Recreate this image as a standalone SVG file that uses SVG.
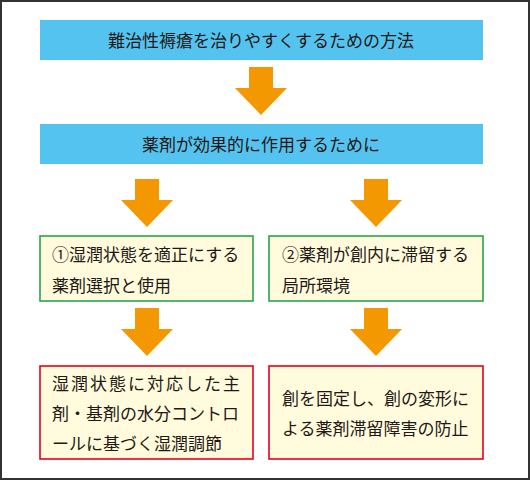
<svg xmlns="http://www.w3.org/2000/svg" width="530" height="480" viewBox="0 0 530 480">
<defs>
<style>
.t{font-family:"Noto Sans CJK JP","Noto Sans CJK SC",sans-serif;font-size:17px;fill:#231815}
.blue{fill:#55c3f0}
.g{fill:#fffbdc;stroke:#23a84a;stroke-width:1.6}
.r{fill:#fffbdc;stroke:#e60020;stroke-width:1.6}
.arr{fill:#f39800}
</style>
<polygon id="arrow" points="-12,0 12,0 12,21 26,21 0,48 -26,21 -12,21"/>
</defs>
<rect x="1" y="1" width="528" height="478" fill="#ffffff" stroke="#333333" stroke-width="2"/>
<g id="connectors" class="arr">
<use href="#arrow" x="261" y="67"/>
<use href="#arrow" x="147" y="179"/>
<use href="#arrow" x="376" y="179"/>
<use href="#arrow" x="147" y="308"/>
<use href="#arrow" x="376" y="308"/>
</g>
<g id="n1">
<rect class="blue" x="40" y="20" width="443" height="40"/>
<text class="t" x="261" y="47" text-anchor="middle">難治性褥瘡を治りやすくするための方法</text>
</g>
<g id="n2">
<rect class="blue" x="40" y="124" width="443" height="40"/>
<text class="t" x="261" y="151" text-anchor="middle">薬剤が効果的に作用するために</text>
</g>
<g id="n3">
<rect class="g" x="40" y="236" width="213" height="65"/>
<text class="t" x="52" y="261">①湿潤状態を適正にする</text>
<text class="t" x="52" y="292">薬剤選択と使用</text>
</g>
<g id="n4">
<rect class="g" x="269" y="236" width="214" height="65"/>
<text class="t" x="282" y="261">②薬剤が創内に滞留する</text>
<text class="t" x="282" y="292">局所環境</text>
</g>
<g id="n5">
<rect class="r" x="40" y="366" width="213" height="93"/>
<text class="t" x="52" y="390" textLength="188" lengthAdjust="spacing">湿潤状態に対応した主</text>
<text class="t" x="52" y="420">剤・基剤の水分コントロ</text>
<text class="t" x="52" y="450">ールに基づく湿潤調節</text>
</g>
<g id="n6">
<rect class="r" x="269" y="366" width="214" height="93"/>
<text class="t" x="282" y="405">創を固定し、創の変形に</text>
<text class="t" x="282" y="435">よる薬剤滞留障害の防止</text>
</g>
</svg>
